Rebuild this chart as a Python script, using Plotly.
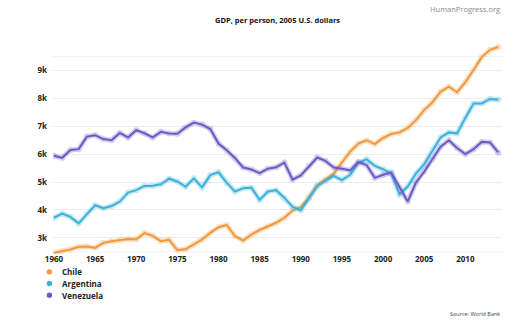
import plotly.graph_objects as go

years = list(range(1960, 2015))

chile = [2460, 2520, 2580, 2680, 2690, 2640, 2820, 2880, 2920, 2960,
         2950, 3170, 3070, 2880, 2930, 2560, 2590, 2760, 2940, 3180,
         3380, 3460, 3060, 2900, 3120, 3280, 3410, 3540, 3720, 3980,
         4100, 4440, 4880, 5100, 5300, 5700, 6090, 6380, 6500, 6360,
         6580, 6720, 6780, 6940, 7220, 7580, 7860, 8240, 8420, 8220,
         8580, 9020, 9480, 9740, 9840]

argentina = [3720, 3870, 3750, 3520, 3850, 4170, 4060, 4140, 4300, 4620,
             4710, 4860, 4870, 4920, 5120, 5020, 4830, 5130, 4810, 5250,
             5350, 4970, 4660, 4780, 4800, 4360, 4660, 4710, 4440, 4110,
             3990, 4440, 4860, 5040, 5220, 5070, 5260, 5680, 5820, 5580,
             5460, 5300, 4560, 4840, 5300, 5640, 6140, 6600, 6780, 6740,
             7300, 7820, 7820, 7980, 7950]

venezuela = [5940, 5870, 6150, 6180, 6630, 6680, 6540, 6500, 6760, 6600,
             6860, 6750, 6600, 6800, 6740, 6730, 6960, 7130, 7060, 6900,
             6380, 6140, 5860, 5520, 5450, 5320, 5480, 5530, 5700, 5090,
             5240, 5580, 5880, 5760, 5520, 5480, 5420, 5720, 5610, 5150,
             5260, 5340, 4800, 4300, 4980, 5370, 5820, 6270, 6500, 6220,
             6000, 6180, 6440, 6420, 6060]

series = [("Chile", chile, "#F0983C"),
          ("Argentina", argentina, "#3BB2DC"),
          ("Venezuela", venezuela, "#6A5AC6")]

y_tickvals = [3000, 4000, 5000, 6000, 7000, 8000, 9000]
y_ticktext = ["3k", "4k", "5k", "6k", "7k", "8k", "9k"]
x_tickvals = [1960, 1965, 1970, 1975, 1980, 1985, 1990, 1995, 2000, 2005, 2010]

FONT = "Open Sans"
DARK = "#222222"

fig = go.Figure()

for name, vals, col in series:
    # soft glow under the line
    fig.add_trace(go.Scatter(
        x=years, y=vals, mode="lines+markers",
        line=dict(color=col, width=5), opacity=0.3,
        marker=dict(size=6, color=col),
        showlegend=False, hoverinfo="skip"))
    fig.add_trace(go.Scatter(
        x=years, y=vals, mode="lines", name=name,
        line=dict(color=col, width=2),
        showlegend=False))

# faint boundary lines
for yv in (2500, 9500):
    fig.add_shape(type="line", xref="paper", x0=0, x1=1, yref="y", y0=yv, y1=yv,
                  line=dict(color="#f3f3f3", width=1), layer="below")

annotations = []
# custom legend
for i, (name, vals, col) in enumerate(series):
    yy = -0.085 - i * 0.0555
    fig.add_shape(type="circle", xref="paper", yref="paper",
                  xsizemode="pixel", ysizemode="pixel",
                  xanchor=-0.008, yanchor=yy,
                  x0=-2.7, x1=2.7, y0=-2.7, y1=2.7,
                  fillcolor=col, line=dict(width=0))
    annotations.append(dict(xref="paper", yref="paper", x=0.016, y=yy,
                            text="<b>%s</b>" % name,
                            showarrow=False, xanchor="left", yanchor="middle",
                            font=dict(family=FONT, size=8, color=DARK)))

annotations += [
    dict(xref="paper", yref="paper", x=0.5, y=1.0, yshift=24,
         text="<b>GDP, per person, 2005 U.S. dollars</b>", showarrow=False,
         xanchor="center", yanchor="middle",
         font=dict(family=FONT, size=7.5, color="#111111")),
    dict(xref="paper", yref="paper", x=1.0, y=1.0, yshift=35, text="HumanProgress.org",
         showarrow=False, xanchor="right", yanchor="middle",
         font=dict(family=FONT, size=7.5, color="#8a8a8a")),
    dict(xref="paper", yref="paper", x=1.0, y=0, yshift=-60, text="Source: World Bank",
         showarrow=False, xanchor="right", yanchor="middle",
         font=dict(family=FONT, size=5.5, color="#444444")),
]

fig.update_layout(
    width=522, height=323,
    margin=dict(l=53, r=20, t=44, b=69),
    paper_bgcolor="white", plot_bgcolor="white",
    showlegend=False,
    xaxis=dict(range=[1959.88, 2014.46], tickvals=x_tickvals,
               ticktext=["<b>%d</b>" % v for v in x_tickvals],
               showgrid=False, zeroline=False, showline=False, ticks="",
               tickfont=dict(family=FONT, size=8, color=DARK),
               ticklabelstandoff=-1),
    yaxis=dict(range=[2420, 9950], tickvals=y_tickvals,
               ticktext=["<b>%s</b>" % t for t in y_ticktext],
               showgrid=True, gridcolor="#ececec", gridwidth=1,
               zeroline=False, showline=False, ticks="",
               tickfont=dict(family=FONT, size=8, color=DARK),
               ticklabelstandoff=5),
    annotations=annotations,
)

fig.write_html("out.html")
